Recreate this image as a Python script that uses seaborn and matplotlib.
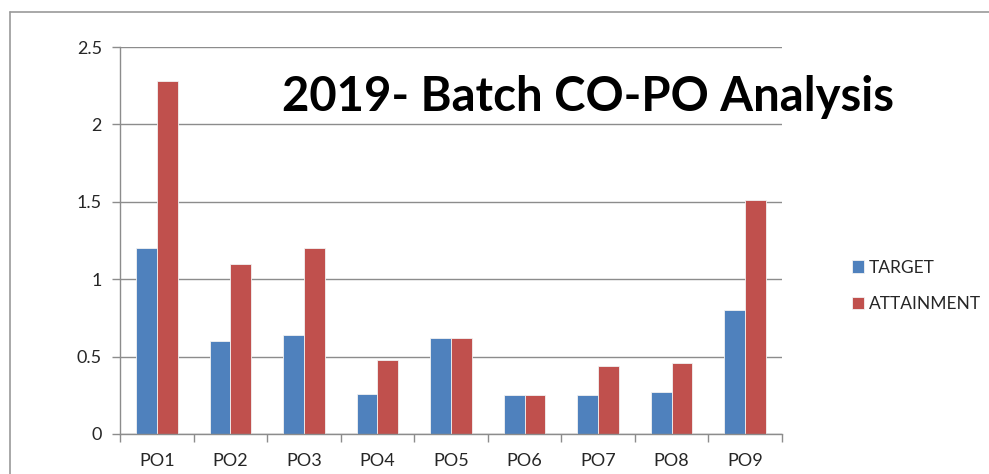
import pandas as pd
import matplotlib
matplotlib.use("Agg")
from matplotlib import pyplot as plt
from matplotlib.lines import Line2D
import seaborn as sns

# values
categories = ['PO1', 'PO2', 'PO3', 'PO4', 'PO5', 'PO6', 'PO7', 'PO8', 'PO9']
target = [1.2, 0.6, 0.64, 0.26, 0.62, 0.25, 0.25, 0.27, 0.8]
attainment = [2.28, 1.1, 1.2, 0.48, 0.62, 0.25, 0.44, 0.46, 1.51]
series_names = ['TARGET', 'ATTAINMENT']
yticks = [0, 0.5, 1, 1.5, 2, 2.5]
ytick_labels = ['0', '0.5', '1', '1.5', '2', '2.5']

df = pd.DataFrame({
    'po': categories * 2,
    'value': target + attainment,
    'series': [series_names[0]] * len(categories) + [series_names[1]] * len(categories),
})

sns.set_style('white')
plt.rcParams['font.family'] = ['Lato', 'DejaVu Sans']

fig = plt.figure(figsize=(9.89, 4.74), dpi=100)
ax = fig.add_axes([120 / 989, 1 - 434 / 474, (782 - 120) / 989, (434 - 47) / 474])

sns.barplot(data=df, x='po', y='value', hue='series', order=categories,
            hue_order=series_names, palette=['#4F81BD', '#C0504D'],
            width=0.565, gap=0, saturation=1, edgecolor='#f2f2f2', linewidth=0.6,
            ax=ax, legend=True)

grid_col = '#8c8c8c'
ax.set_ylim(0, 2.5)
ax.set_xlim(-0.5, len(categories) - 0.5)
ax.set_yticks(yticks)
ax.set_yticklabels(ytick_labels)
ax.yaxis.grid(True, color=grid_col, linewidth=1)
ax.set_axisbelow(True)
ax.set_xlabel('')
ax.set_ylabel('')
for s in ['top', 'right']:
    ax.spines[s].set_visible(False)
for s in ['left', 'bottom']:
    ax.spines[s].set_color(grid_col)
    ax.spines[s].set_linewidth(1)

# ticks on category boundaries, like the spreadsheet chart
ax.set_xticks([i - 0.5 for i in range(len(categories) + 1)], minor=True)
ax.tick_params(axis='x', which='minor', length=6, color=grid_col, width=1, direction='out', bottom=True)
ax.tick_params(axis='x', which='major', length=0, pad=14, labelsize=13)
ax.tick_params(axis='y', length=6, color=grid_col, width=1, direction='out', left=True, pad=7, labelsize=13)

handles, labels = ax.get_legend_handles_labels()
ax.legend(handles, labels, loc='center left', bbox_to_anchor=(836 / 989, 1 - 286 / 474),
          bbox_transform=fig.transFigure, frameon=False, fontsize=12.5,
          handlelength=0.7, handleheight=0.7, handletextpad=0.3, labelspacing=1.2)

fig.text(588 / 989, 1 - 97 / 474, '2019- Batch CO-PO Analysis', ha='center', va='center',
         fontsize=34, fontweight='bold', color='black')

# chart area border, partly cut off in the original
fig.add_artist(Line2D([10 / 989, 1.01], [1 - 12 / 474, 1 - 12 / 474], transform=fig.transFigure,
                      color='#9a9a9a', linewidth=1.2))
fig.add_artist(Line2D([10 / 989, 10 / 989], [-0.01, 1 - 12 / 474], transform=fig.transFigure,
                      color='#9a9a9a', linewidth=1.2))

fig.savefig('out.png', dpi=100)
